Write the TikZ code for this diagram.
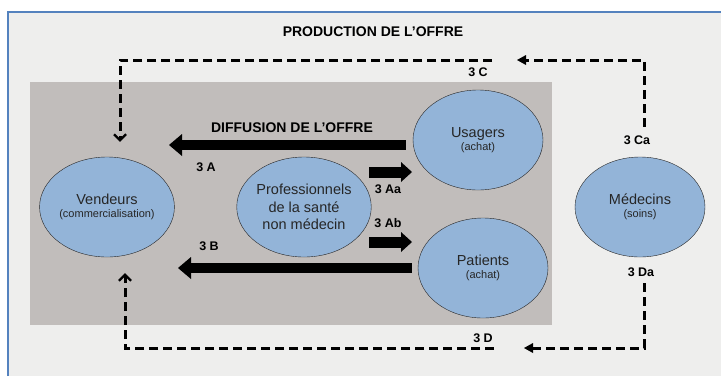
\documentclass[tikz,border=0pt]{standalone}
\usepackage{fontspec}
\setmainfont{Liberation Sans}
\usetikzlibrary{shapes.geometric, arrows.meta, positioning}
\definecolor{bleubulle}{RGB}{147,180,216}
\definecolor{grisfond}{RGB}{238,238,237}
\definecolor{grisboite}{RGB}{193,189,187}
\definecolor{bordbleu}{RGB}{84,130,190}
\newcommand{\souslib}[1]{{\fontsize{11}{12}\selectfont #1}}
\tikzset{
    bulle/.style={ellipse, draw=black!85, thin, fill=bleubulle, minimum width=130pt, minimum height=100pt, inner sep=0pt, align=center, text=black!85, font=\fontsize{14.5}{17.5}\selectfont},
    etiq/.style={font=\bfseries\fontsize{12.5}{14}\selectfont, inner sep=1pt},
    titre/.style={font=\bfseries\fontsize{14}{16}\selectfont, inner sep=1pt},
    grosse/.style={line width=10pt, -{Triangle[length=13pt, width=22pt, line width=0pt]}},
    petite/.style={line width=11pt, -{Triangle[length=11pt, width=20pt, line width=0pt]}},
    pointille/.style={line width=3pt, dash pattern=on 9pt off 5pt},
    pleine/.style={pointille, -{Triangle[length=9pt, width=10pt, line width=0pt]}},
    ouverte/.style={pointille, -{Straight Barb[length=6pt, width=12pt, line width=2.2pt]}}
}
\begin{document}
\begin{tikzpicture}[x=1pt, y=-1pt]
        \useasboundingbox (0,0) rectangle (721,376);
        % fonds
        \fill [grisfond] (8,12) rectangle (721,376);
        \draw [bordbleu, line width=1.2pt] (8,376) -- (8,12) -- (721,12);
        \fill [grisboite] (30,82) rectangle (552,325);

        \node [titre] (prod) at (373,32) {PRODUCTION DE L’OFFRE};

        % bulles
        \node [bulle] (vend) at (107,207) {Vendeurs\\[-4pt]\souslib{(commercialisation)}};
        \node [bulle] (pro) at (304,207) {Professionnels\\de la santé\\non médecin};
        \node [bulle] (usa) at (478,140) {Usagers\\[-4pt]\souslib{(achat)}};
        \node [bulle] (pat) at (483,268) {Patients\\[-4pt]\souslib{(achat)}};
        \node [bulle] (med) at (640,207) {Médecins\\[-4pt]\souslib{(soins)}};

        % diffusion
        \node [titre] (diff) at (292,128) {DIFFUSION DE L’OFFRE};
        \coordinate (a3) at (169,145);
        \coordinate (b3) at (178,268);
        \draw [grosse] ([xshift=-7pt, yshift=-5pt]usa.west) -- (a3);
        \draw [grosse] ([xshift=-6pt]pat.west) -- (b3);
        \node [etiq] (l3a) at (206,167) {3 A};
        \node [etiq] (l3b) at (209,246) {3 B};

        \coordinate (aa1) at (369,172);
        \coordinate (aa2) at (412,172);
        \coordinate (ab1) at (369,242);
        \coordinate (ab2) at (412,242);
        \draw [petite] (aa1) -- (aa2);
        \draw [petite] (ab1) -- (ab2);
        \node [etiq] (l3aa) at (388,189) {3 Aa};
        \node [etiq] (l3ab) at (388,223) {3 Ab};

        % production
        \node [etiq] (l3c) at (478,72) {3 C};
        \node [etiq] (l3ca) at (637,140) {3 Ca};
        \node [etiq] (l3da) at (641,272) {3 Da};
        \node [etiq] (l3d) at (483,338) {3 D};
        \coordinate (c1) at (517,60);
        \coordinate (c2) at (492,60);
        \coordinate (d1) at (524,348);
        \coordinate (d2) at (494,348);
        \draw [pleine] ([xshift=4pt, yshift=30pt]med.north) |- (c1);
        \draw [ouverte] (c2) -| ([xshift=13pt, yshift=15pt]vend.north);
        \draw [pleine] ([xshift=4pt, yshift=-26pt]med.south) |- (d1);
        \draw [ouverte] (d2) -| ([xshift=18pt, yshift=-16pt]vend.south);
    \end{tikzpicture}
\end{document}
